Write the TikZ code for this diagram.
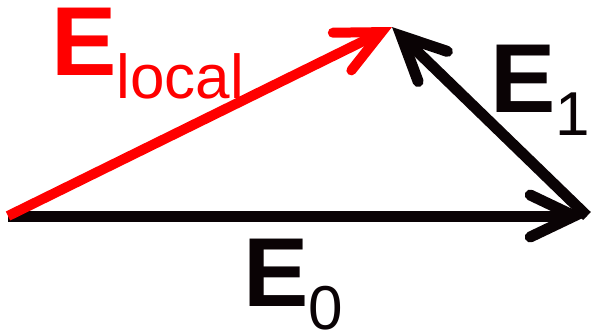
\documentclass[tikz,border=0pt]{standalone}
\usepackage{fontspec}
\setmainfont{Liberation Sans}
\usetikzlibrary{arrows.meta}
\definecolor{Vred}{HTML}{FF0000}
\definecolor{Vblack}{HTML}{0A0305}
\newcommand{\veclabel}[2]{\fontsize{98}{98}\selectfont\bfseries #1\raisebox{-23pt}{\fontsize{62}{62}\selectfont\mdseries #2}}

\begin{document}
\begin{tikzpicture}[x=1pt,y=-1pt,
  vec/.style={line width=11pt,-{Straight Barb[length=44pt,width=42pt,line cap=round]}},
  lab/.style={anchor=base west,inner sep=0pt}]
\useasboundingbox (0,0) rectangle (596,332);
% corners of the triangle
\coordinate (O) at (8,216);
\coordinate (R) at (587,216);
\coordinate (T) at (392,27);
\draw[vec,Vblack] (O) -- (R);
\draw[vec,Vblack] (R) -- (T);
\draw[vec,Vred,line width=10pt] (O) -- (T);
% labels
\node[lab,text=Vred] (elocal) at (51,75) {\veclabel{E}{local}};
\node[lab,text=Vblack] (eone) at (490,112) {\veclabel{E}{1}};
\node[lab,text=Vblack] (ezero) at (243,306) {\veclabel{E}{0}};
\end{tikzpicture}
\end{document}
